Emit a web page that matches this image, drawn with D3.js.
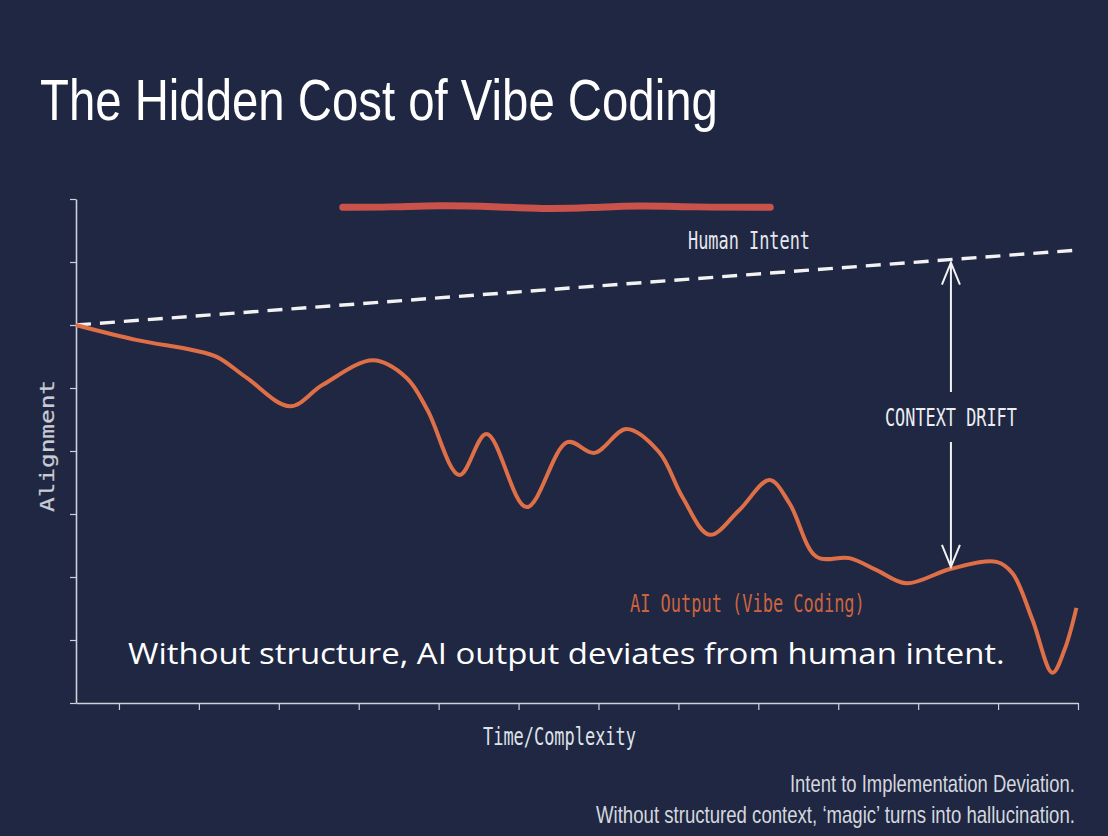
<!DOCTYPE html>
<html>
<head>
<meta charset="utf-8">
<script src="https://cdn.jsdelivr.net/npm/d3@7"></script>
<style>
  html, body { margin: 0; padding: 0; background: #1f2742; }
  svg { display: block; }
</style>
</head>
<body>
<div id="chart"></div>
<script>
// time steps on the x axis, alignment score on the y axis
const xTicks = [1, 2, 3, 4, 5, 6, 7, 8, 9, 10, 11, 12, 13];
const yTicks = [0, 1, 2, 3, 4, 5, 6, 7, 8];

// human intent: straight rising line
const intentX = [0.4625, 13];
const intentY = [6.0, 7.19];

// AI output (vibe coding)
const aiX = [0.46, 1.23, 1.93, 2.23, 2.6, 3.14, 3.55, 4.18, 4.6, 4.86, 5.26, 5.6, 6.1, 6.61, 6.95,
  7.35, 7.76, 8.05, 8.39, 8.76, 9.14, 9.39, 9.73, 10.14, 10.48, 10.85, 11.41, 11.98, 12.18,
  12.43, 12.68, 12.83, 12.98];
const aiY = [6.0, 5.76, 5.6, 5.49, 5.16, 4.71, 5.05, 5.44, 5.16, 4.65, 3.62, 4.27, 3.11, 4.14, 3.97,
  4.35, 3.98, 3.27, 2.67, 3.06, 3.54, 3.17, 2.32, 2.3, 2.11, 1.9, 2.13, 2.24, 2.06,
  1.32, 0.48, 0.84, 1.51];

// where the drift arrow sits
const driftX = 11.41;
const driftBottom = 2.13;

// hand drawn red underline above the chart
const markX = [3.8, 4.4, 5.0, 5.7, 6.3, 6.9, 7.5, 8.2, 9.15];
const markY = [7.87, 7.87, 7.9, 7.88, 7.84, 7.86, 7.9, 7.87, 7.87];

const W = 1108;
const H = 836;
const monoFont = "'DejaVu Sans Mono', monospace";
const sansFont = "'Liberation Sans', Arial, sans-serif";

const svg = d3.select('#chart').append('svg')
  .attr('width', W)
  .attr('height', H);

svg.append('rect')
  .attr('width', W)
  .attr('height', H)
  .attr('fill', '#1f2742');

const x = d3.scaleLinear().domain([0.4625, 13]).range([76, 1078]);
const y = d3.scaleLinear().domain([0, 8]).range([703, 199]);

// text squeezed to a given width (the picture is horizontally condensed)
function addText(txt, px, py, opts) {
  const t = svg.append('text')
    .attr('font-family', opts.font || monoFont)
    .attr('font-size', opts.size || 24)
    .attr('fill', opts.color || '#e6e8ee')
    .text(txt);
  const natural = t.node().getComputedTextLength();
  const sx = opts.len / natural;
  const left = opts.anchor === 'end' ? px - opts.len : px;
  t.attr('transform', `translate(${left},${py}) scale(${sx},1)`);
  return t;
}

// title
addText('The Hidden Cost of Vibe Coding', 40, 120,
  { font: sansFont, size: 57, color: '#ffffff', len: 678 });

// red marker
svg.append('path')
  .datum(markX.map((d, i) => [d, markY[i]]))
  .attr('d', d3.line().x(d => x(d[0])).y(d => y(d[1])).curve(d3.curveBasis))
  .attr('fill', 'none')
  .attr('stroke', '#c9524b')
  .attr('stroke-width', 7)
  .attr('stroke-linecap', 'round');

// axes
const axisColor = '#cdd1d9';
const gy = svg.append('g')
  .attr('transform', `translate(${x(0.4625)},0)`)
  .call(d3.axisLeft(y).tickValues(yTicks).tickSize(6).tickSizeOuter(0).tickFormat(''));
const gx = svg.append('g')
  .attr('transform', `translate(0,${y(0)})`)
  .call(d3.axisBottom(x).tickValues(xTicks).tickSize(7).tickSizeOuter(0).tickFormat(''));
[gx, gy].forEach((g) => {
  g.select('.domain').attr('stroke', axisColor).attr('stroke-width', 1.6);
  g.selectAll('.tick line').attr('stroke', axisColor).attr('stroke-width', 1.2);
});

// axis labels
addText('Time/Complexity', 483, 745, { color: '#dfe2e8', len: 153 });
const alignLabel = svg.append('text')
  .attr('font-family', monoFont)
  .attr('font-size', 24)
  .attr('fill', '#c9ccd4')
  .attr('text-anchor', 'middle')
  .attr('stroke', '#c9ccd4')
  .attr('stroke-width', 0.3)
  .text('Alignment');
const alignSy = 132 / alignLabel.node().getComputedTextLength();
alignLabel.attr('transform', `translate(54,446) scale(0.8,${alignSy}) rotate(-90)`);

// human intent line
svg.append('path')
  .datum(intentX.map((d, i) => [d, intentY[i]]))
  .attr('d', d3.line().x(d => x(d[0])).y(d => y(d[1])))
  .attr('fill', 'none')
  .attr('stroke', '#f2f2f2')
  .attr('stroke-width', 3.4)
  .attr('stroke-dasharray', '15 9');
addText('Human Intent', 688, 249, { color: '#e6e8ee', len: 122 });

// AI output curve
svg.append('path')
  .datum(aiX.map((d, i) => [d, aiY[i]]))
  .attr('d', d3.line().x(d => x(d[0])).y(d => y(d[1])).curve(d3.curveCatmullRom.alpha(0.5)))
  .attr('fill', 'none')
  .attr('stroke', '#df6f47')
  .attr('stroke-width', 4)
  .attr('stroke-linejoin', 'round');
addText('AI Output (Vibe Coding)', 630, 612, { color: '#cd6440', len: 235 });

// context drift arrow
const ax = x(driftX);
const intentAt = d3.scaleLinear().domain(intentX).range(intentY);
const topY = y(intentAt(driftX)) + 3;
const botY = y(driftBottom) - 2;
const arrowG = svg.append('g')
  .attr('stroke', '#f2f2f2')
  .attr('stroke-width', 2)
  .attr('fill', 'none');
arrowG.append('line').attr('x1', ax).attr('x2', ax).attr('y1', topY).attr('y2', 392);
arrowG.append('path').attr('d', `M${ax - 9},${topY + 22}L${ax},${topY}L${ax + 9},${topY + 22}`);
arrowG.append('line').attr('x1', ax).attr('x2', ax).attr('y1', 442).attr('y2', botY);
arrowG.append('path').attr('d', `M${ax - 9},${botY - 22}L${ax},${botY}L${ax + 9},${botY - 22}`);
addText('CONTEXT DRIFT', ax - 66, 426, { color: '#eceef2', len: 132 });

// overlay caption
addText('Without structure, AI output deviates from human intent.', 128, 664,
  { font: "'Open Sans', sans-serif", size: 30, color: '#ffffff', len: 877 });

// footnote, right aligned at x = 1075
addText('Intent to Implementation Deviation.', 1075, 792,
  { font: sansFont, size: 24, color: '#d4d7de', len: 285, anchor: 'end' });
addText('Without structured context, \u2018magic\u2019 turns into hallucination.', 1075, 823,
  { font: sansFont, size: 24, color: '#d4d7de', len: 479, anchor: 'end' });
</script>
</body>
</html>
